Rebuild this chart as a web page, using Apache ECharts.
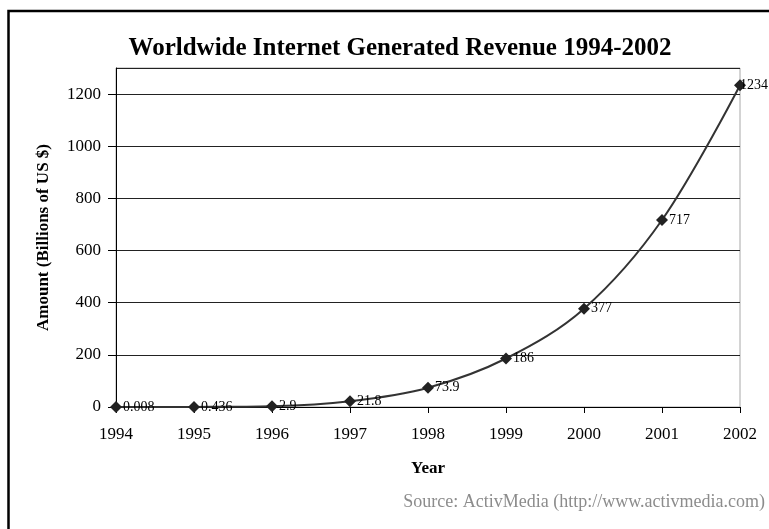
<!DOCTYPE html>
<html>
<head>
<meta charset="utf-8">
<script src="https://cdn.jsdelivr.net/npm/echarts@6/dist/echarts.min.js"></script>
<style>
  html, body { margin: 0; padding: 0; background: #fff; }
  #chart { width: 769px; height: 529px; }
</style>
</head>
<body>
<div id="chart"></div>
<script>
// Revenue by year, billions of US dollars
const years = ['1994', '1995', '1996', '1997', '1998', '1999', '2000', '2001', '2002'];
const revenue = [0.008, 0.436, 2.9, 21.8, 73.9, 186, 377, 717, 1234];
const revenueLabels = ['0.008', '0.436', '2.9', '21.8', '73.9', '186', '377', '717', '1234'];

const serif = '"Liberation Serif", "DejaVu Serif", serif';

// The last label sits tucked against its marker so it stays inside the frame
const seriesData = revenue.map((v, i) =>
  i === revenue.length - 1 ? { value: v, label: { distance: -6 } } : v
);

const chart = echarts.init(document.getElementById('chart'));
chart.setOption({
  animation: false,
  backgroundColor: '#fff',
  title: {
    text: 'Worldwide Internet Generated Revenue 1994-2002',
    left: 395,
    top: 31,
    textAlign: 'center',
    textStyle: { fontFamily: serif, fontSize: 25, fontWeight: 'bold', color: '#000' }
  },
  graphic: [
    {
      type: 'rect',
      shape: { x: 8.5, y: 11, width: 800, height: 600 },
      style: { fill: 'none', stroke: '#000', lineWidth: 2.5 },
      silent: true
    },
    {
      type: 'rect',
      shape: { x: 116, y: 68, width: 624, height: 339 },
      style: { fill: 'none', stroke: '#a8a8a8', lineWidth: 1 },
      silent: true,
      z: 0
    },
    {
      type: 'text',
      right: 4,
      top: 493,
      style: {
        text: 'Source: ActivMedia (http://www.activmedia.com)',
        font: '18px ' + serif,
        fill: '#8c8c8c'
      }
    }
  ],
  grid: { left: 116, right: 29, top: 68, bottom: 122 },
  xAxis: {
    type: 'category',
    data: years,
    boundaryGap: false,
    name: 'Year',
    nameLocation: 'middle',
    nameGap: 53,
    nameTextStyle: { fontFamily: serif, fontSize: 17, fontWeight: 'bold', color: '#000' },
    axisLine: { lineStyle: { color: '#000', width: 1 } },
    axisTick: { show: true, alignWithLabel: true, length: 6, lineStyle: { color: '#000' } },
    axisLabel: { fontFamily: serif, fontSize: 17, color: '#000', margin: 19 }
  },
  yAxis: {
    type: 'value',
    min: 0,
    max: 1300,
    interval: 200,
    name: 'Amount (Billions of US $)',
    nameLocation: 'middle',
    nameGap: 64,
    nameTextStyle: { fontFamily: serif, fontSize: 17, fontWeight: 'bold', color: '#000' },
    axisLine: { show: true, lineStyle: { color: '#000', width: 1 } },
    axisTick: { show: true, length: 8, lineStyle: { color: '#000' } },
    axisLabel: {
      fontFamily: serif, fontSize: 17, color: '#000', margin: 15,
      showMaxLabel: false,
      formatter: v => String(v)
    },
    splitLine: { show: true, lineStyle: { color: '#222', width: 1 } }
  },
  series: [{
    type: 'line',
    data: seriesData,
    smooth: 0.35,
    symbol: 'diamond',
    symbolSize: 12,
    lineStyle: { color: '#333', width: 2 },
    itemStyle: { color: '#222' },
    label: {
      show: true,
      position: 'right',
      distance: 1,
      fontFamily: serif,
      fontSize: 14,
      color: '#000',
      formatter: p => revenueLabels[p.dataIndex]
    },
    z: 3
  }]
});
</script>
</body>
</html>
